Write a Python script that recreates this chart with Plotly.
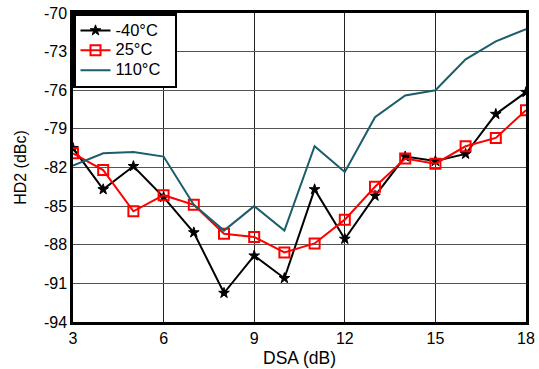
import plotly.graph_objects as go

dsa = [3, 4, 5, 6, 7, 8, 9, 10, 11, 12, 13, 14, 15, 16, 17, 18]
hd2_m40 = [-80.5, -83.7, -81.9, -84.3, -87.05, -91.75, -88.85, -90.6, -83.7, -87.55, -84.2, -81.15, -81.5, -80.95, -77.85, -76.15]
hd2_25 = [-80.9, -82.2, -85.4, -84.15, -84.9, -87.15, -87.4, -88.6, -87.9, -86.05, -83.5, -81.3, -81.7, -80.35, -79.7, -77.55]
hd2_110 = [-81.85, -80.9, -80.8, -81.15, -84.9, -86.9, -85.0, -86.9, -80.35, -82.35, -78.1, -76.4, -76.0, -73.6, -72.2, -71.25]
y_ticks = [-94, -91, -88, -85, -82, -79, -76, -73, -70]
x_ticks = [3, 6, 9, 12, 15, 18]
series_names = ["-40°C", "25°C", "110°C"]

font_family = "Liberation Sans, Arial, sans-serif"


def legend_label(txt):
    return '<span style="font-size:16.5px">' + txt + '&nbsp;&nbsp;</span>'


fig = go.Figure()
fig.add_trace(go.Scatter(
    x=dsa, y=hd2_m40, name=legend_label(series_names[0]), mode="lines+markers",
    line=dict(color="black", width=2),
    marker=dict(symbol="star", size=8, color="black", line=dict(width=1, color="black")),
))
fig.add_trace(go.Scatter(
    x=dsa, y=hd2_25, name=legend_label(series_names[1]), mode="lines+markers",
    line=dict(color="#ff0000", width=2),
    marker=dict(symbol="square-open", size=10, color="#ff0000", line=dict(width=2, color="#ff0000")),
))
fig.add_trace(go.Scatter(
    x=dsa, y=hd2_110, name=legend_label(series_names[2]), mode="lines",
    line=dict(color="#1c5d6b", width=2),
))

fig.update_layout(
    width=539, height=369,
    margin=dict(l=73, r=13, t=13, b=47, autoexpand=False),
    paper_bgcolor="white", plot_bgcolor="white",
    font=dict(family=font_family, size=16, color="black"),
    showlegend=True,
    legend=dict(
        x=0, y=1, xanchor="left", yanchor="top",
        bordercolor="black", borderwidth=2.5, bgcolor="white",
        font=dict(size=13), itemwidth=30, tracegroupgap=0,
    ),
    xaxis=dict(
        range=[3, 18], tickvals=x_ticks, ticktext=[str(v) for v in x_ticks],
        showgrid=True, gridcolor="#222222", gridwidth=1,
        showline=True, linecolor="black", linewidth=2.5, mirror=True,
        ticks="", zeroline=False, automargin=False,
        tickfont=dict(size=16),
        title=dict(text="DSA (dB)", standoff=6, font=dict(size=17.5)),
    ),
    yaxis=dict(
        range=[-94, -70], tickvals=y_ticks, ticktext=[str(v) for v in y_ticks],
        showgrid=True, gridcolor="#555555", gridwidth=1,
        showline=True, linecolor="black", linewidth=2.5, mirror=True,
        ticks="", zeroline=False, automargin=False,
        tickfont=dict(size=16),
        title=dict(text="HD2 (dBc)", standoff=14, font=dict(size=16)),
    ),
)

fig.write_html("out.html", config={"displayModeBar": False},
               post_script="document.body.style.margin='0';")
